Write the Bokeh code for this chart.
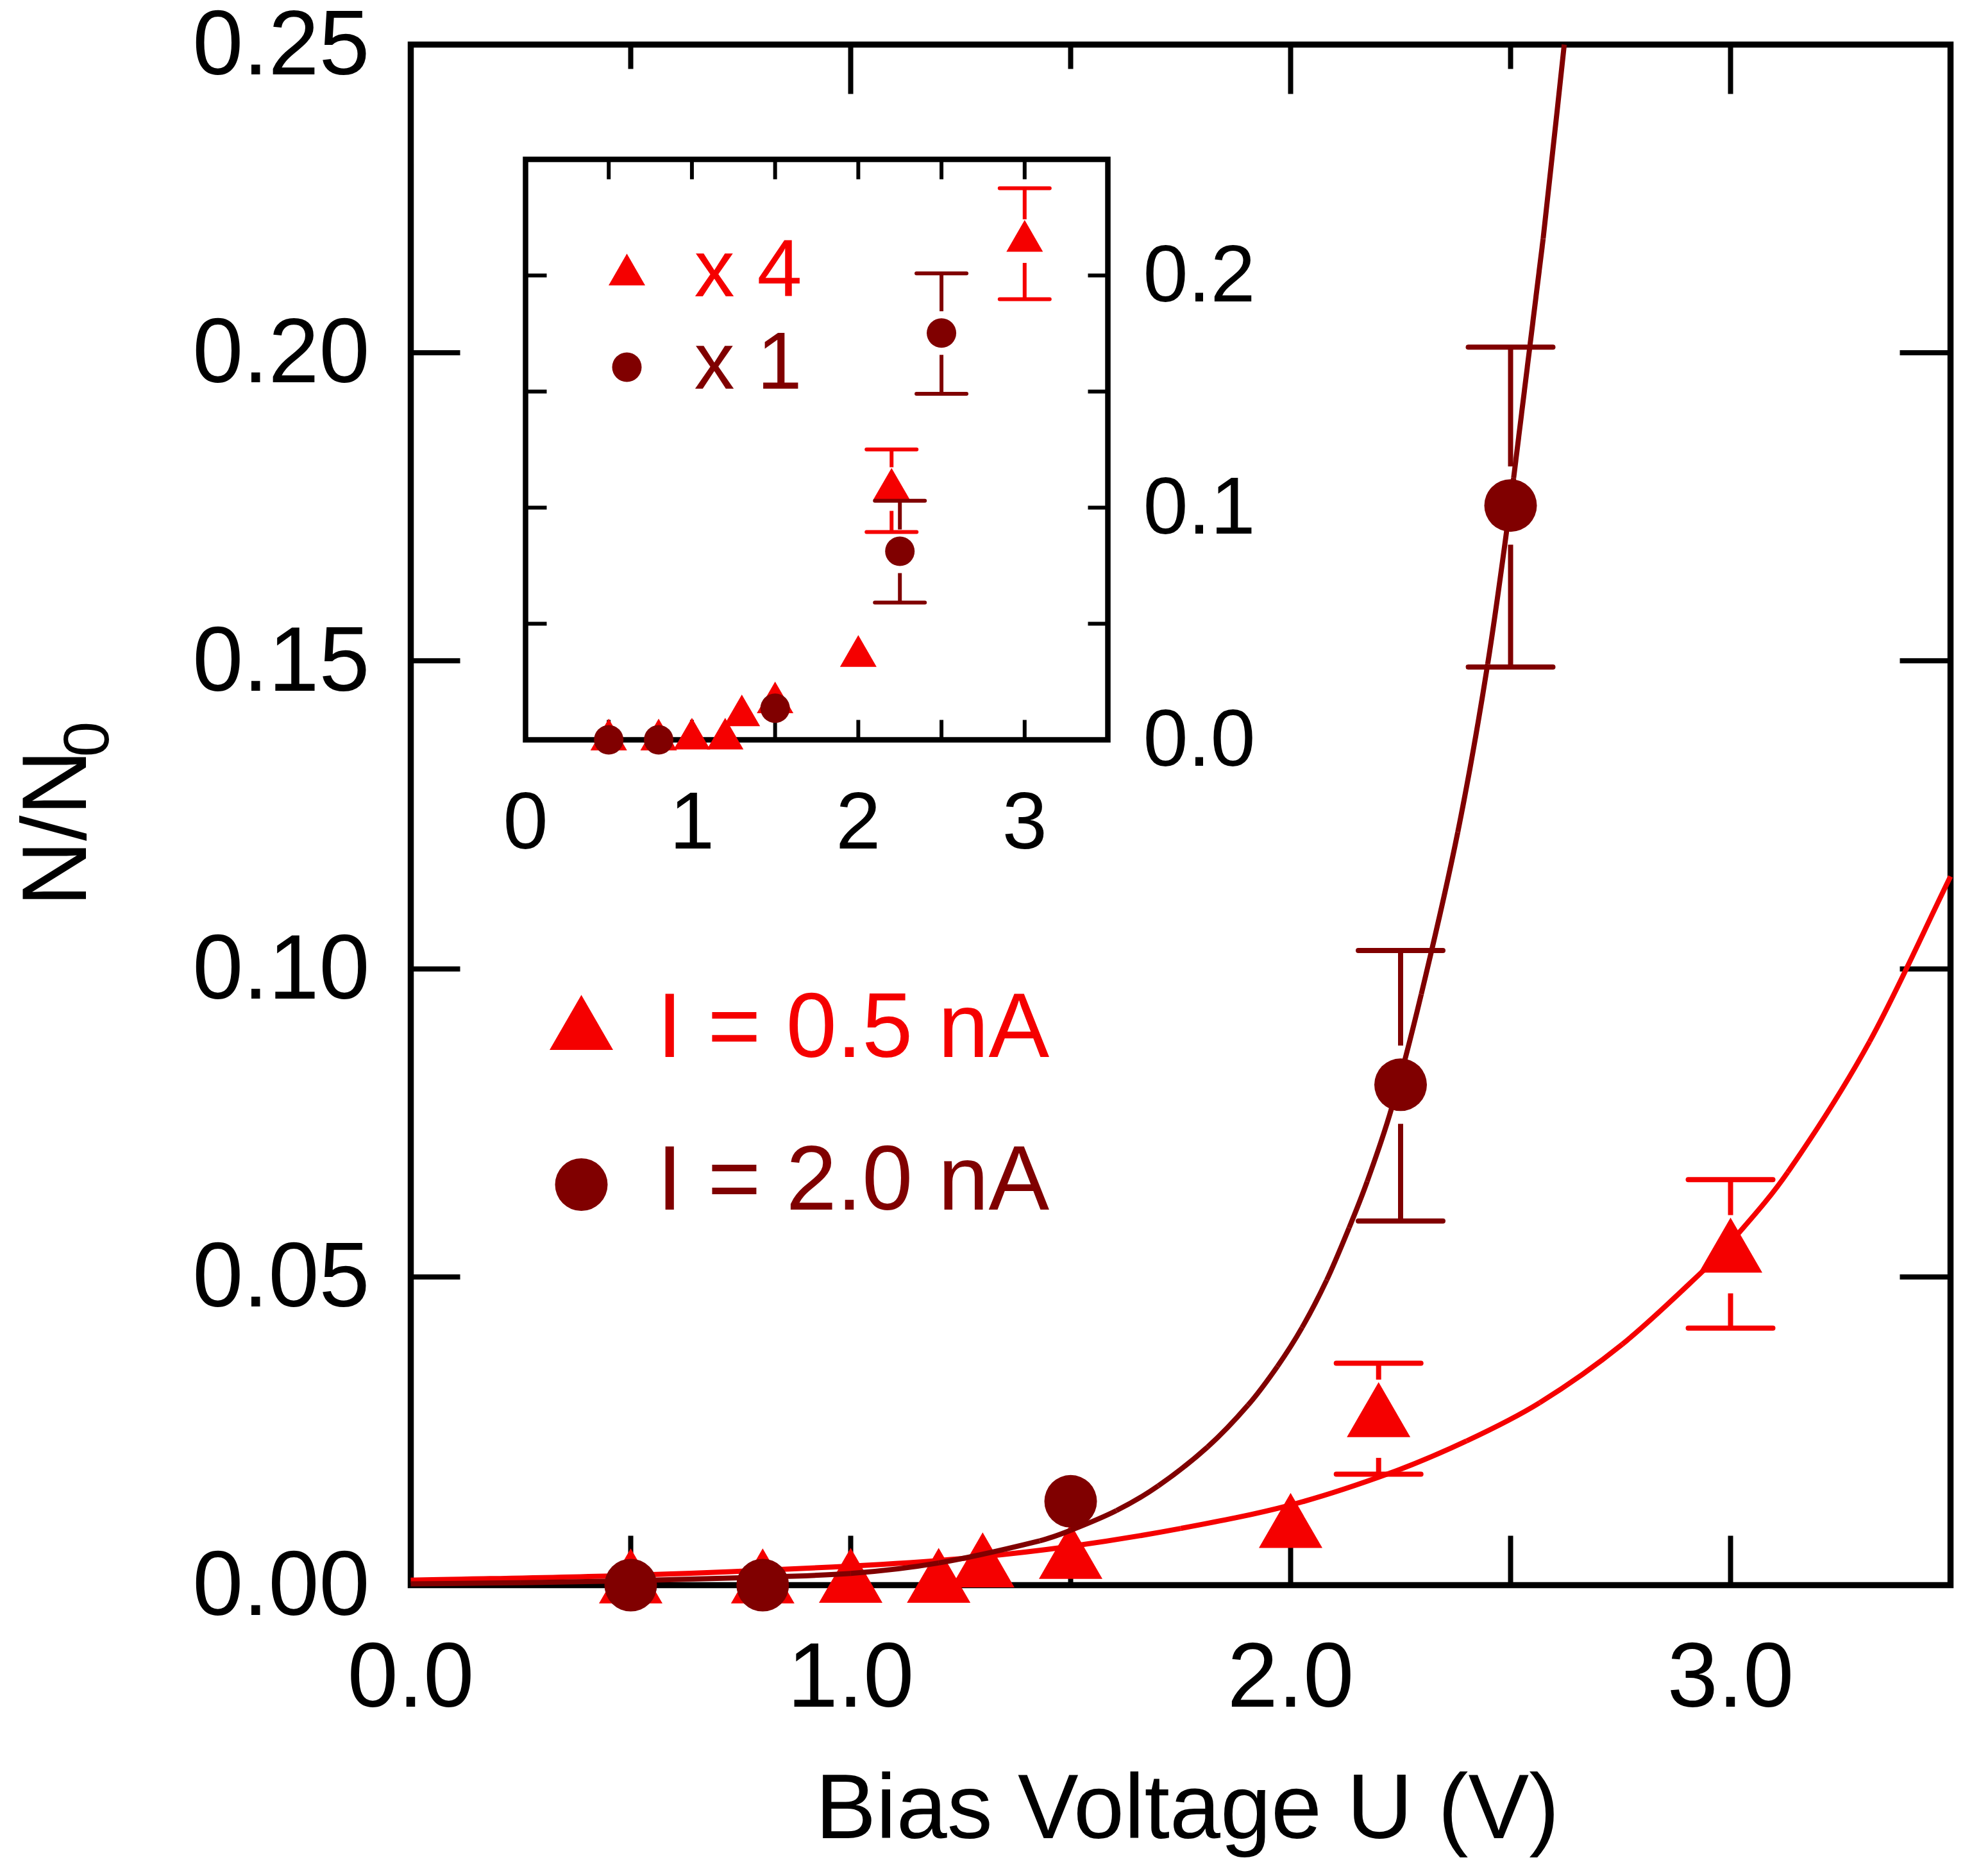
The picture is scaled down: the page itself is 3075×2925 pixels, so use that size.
import math
from bokeh.plotting import figure
from bokeh.models import Range1d
from bokeh.core.properties import value
from bokeh.embed import file_html
from bokeh.resources import INLINE

# ---------------- data ----------------
# I = 0.5 nA (triangles)
tri_x = [0.5, 0.8, 1.0, 1.2, 1.3, 1.5, 2.0, 2.2, 3.0]
tri_y = [0.0000, 0.0000, 0.0001, 0.0001, 0.0026, 0.0040, 0.0090, 0.0270, 0.0537]
tri_err_x = [2.2, 3.0]
tri_err_y = [0.0270, 0.0537]
tri_err_hi = [0.0360, 0.0658]
tri_err_lo = [0.0180, 0.0417]

# I = 2.0 nA (circles)
circ_x = [0.5, 0.8, 1.5, 2.25, 2.5]
circ_y = [0.0000, 0.0000, 0.0136, 0.0812, 0.1752]
circ_err_x = [2.25, 2.5]
circ_err_y = [0.0812, 0.1752]
circ_err_hi = [0.1030, 0.2009]
circ_err_lo = [0.0591, 0.1490]

# inset: triangles x 4, circles x 1
inset_tri_factor = 4
inset_circ_factor = 1
inset_tri_err_hi = [0.1251, 0.2376]
inset_tri_err_lo = [0.0895, 0.1898]

# fitted curves
fit_red_x = [0.0, 0.5, 1.0, 1.25, 1.5, 1.75, 2.0, 2.223, 2.4, 2.566, 2.754, 2.942, 3.0, 3.13,
             3.316, 3.5]
fit_red_y = [0.0008, 0.0016, 0.0031, 0.0043, 0.0063, 0.0092, 0.0130, 0.0181, 0.0234, 0.0296,
             0.0391, 0.0513, 0.0556, 0.0670, 0.0882, 0.1150]
fit_dark_x = [0.0, 0.25, 0.5, 0.75, 1.0, 1.2, 1.43, 1.5, 1.604, 1.699, 1.811, 1.903, 1.97,
              2.026, 2.082, 2.133, 2.174, 2.23, 2.297, 2.38, 2.448, 2.507, 2.574, 2.622]
fit_dark_y = [0.0002, 0.0004, 0.0007, 0.0012, 0.0019, 0.0036, 0.0072, 0.0089, 0.0121, 0.0161,
              0.0224, 0.0292, 0.0355, 0.0418, 0.0495, 0.0580, 0.0655, 0.0775, 0.0959, 0.1222,
              0.1495, 0.1797, 0.2185, 0.2500]

x_label_ticks = [0, 1, 2, 3]
x_tick_labels = ["0.0", "1.0", "2.0", "3.0"]
x_bottom_ticks = [0.5, 1.0, 1.5, 2.0, 2.5, 3.0]
x_top_major = [1, 2, 3]
x_top_minor = [0.5, 1.5, 2.5]
y_ticks = [0.0, 0.05, 0.10, 0.15, 0.20, 0.25]
y_tick_labels = ["0.00", "0.05", "0.10", "0.15", "0.20", "0.25"]
y_inner_ticks = [0.05, 0.10, 0.15, 0.20]
inset_x_ticks = [0.5, 1.0, 1.5, 2.0, 2.5, 3.0]
inset_y_ticks = [0.05, 0.10, 0.15, 0.20]
inset_x_labels = ["0", "1", "2", "3"]
inset_x_label_pos = [0, 1, 2, 3]
inset_y_labels = ["0.0", "0.1", "0.2"]
inset_y_label_pos = [0.0, 0.1, 0.2]

legend_labels = ["I = 0.5 nA", "I = 2.0 nA"]
inset_legend_labels = ["x 4", "x 1"]
x_title = "Bias Voltage U (V)"
y_title_main = "N/N"
y_title_sub = "0"

# ---------------- style / layout ----------------
RED = "#F50000"
DARK = "#800000"
FONT = value("Liberation Sans")
F_MAIN, F_IN, F_SUB = 142, 126, 100
BF = 0.38          # baseline correction (em)

W, H = 3070, 2920
X_MAX, Y_MAX = 3.5, 0.25
BOX_L, BOX_R, BOX_T, BOX_B = 640, 3041, 69, 2471
px_x = (BOX_R - BOX_L) / X_MAX
px_y = (BOX_B - BOX_T) / Y_MAX


def dx(px):
    return (px - BOX_L) / px_x


def dy(py):
    return (BOX_B - py) / px_y


# inset box (page pixels) and its own axis ranges
IL, IR, IT, IB = 819, 1727, 248, 1153
IX_MAX, IY_MAX = 3.5, 0.25
ipx_x = (IR - IL) / IX_MAX
ipx_y = (IB - IT) / IY_MAX


def ix(px):
    return (px - IL) / ipx_x


def iy(py):
    return (IB - py) / ipx_y


p = figure(width=W, height=H, x_range=Range1d(dx(0), dx(W)), y_range=Range1d(dy(H), dy(0)),
           x_axis_location=None, y_axis_location=None,
           min_border=0, min_border_left=0, min_border_right=0, min_border_top=0,
           min_border_bottom=0, output_backend="svg", toolbar_location=None,
           background_fill_color="white", border_fill_color="white",
           outline_line_color=None)
p.grid.grid_line_color = None
p.extra_x_ranges = {"inset": Range1d(ix(0), ix(W))}
p.extra_y_ranges = {"inset": Range1d(iy(H), iy(0))}
IN = dict(x_range_name="inset", y_range_name="inset")


def txt(x, y, text, size, color="black", align="left", xo=0, yo=0, angle=0.0, **kw):
    p.text(x=x, y=y, text=text, text_font=FONT, text_font_size=value(f"{size}px"),
           text_color=color, text_align=align, text_baseline="alphabetic",
           x_offset=xo, y_offset=yo, angle=angle, **kw)


def smooth_line(xv, yv, color, lw, **kw):
    n = len(xv)
    m = []
    for i in range(n):
        a, b = max(i - 1, 0), min(i + 1, n - 1)
        m.append((yv[b] - yv[a]) / (xv[b] - xv[a]))
    x0, y0, x1, y1, cx0, cy0, cx1, cy1 = [], [], [], [], [], [], [], []
    for i in range(n - 1):
        h = xv[i + 1] - xv[i]
        x0.append(xv[i]); y0.append(yv[i]); x1.append(xv[i + 1]); y1.append(yv[i + 1])
        cx0.append(xv[i] + h / 3); cy0.append(yv[i] + m[i] * h / 3)
        cx1.append(xv[i + 1] - h / 3); cy1.append(yv[i + 1] - m[i + 1] * h / 3)
    p.bezier(x0=x0, y0=y0, x1=x1, y1=y1, cx0=cx0, cy0=cy0, cx1=cx1, cy1=cy1,
             line_color=color, line_width=lw, line_cap="butt", **kw)


def error_bars(xv, yv, hi, lo, color, gap_px, cap, lw, ppu, **kw):
    gap = gap_px / ppu
    p.segment(x0=xv, y0=[y + gap for y in yv], x1=xv, y1=hi, line_color=color,
              line_width=lw, **kw)
    p.segment(x0=xv, y0=[y - gap for y in yv], x1=xv, y1=lo, line_color=color,
              line_width=lw, **kw)
    p.scatter(x=xv + xv, y=hi + lo, marker="dash", size=cap, line_color=color,
              line_width=lw, line_cap="round", **kw)


def vticks(xv, y0, length_px, ppu, lw, **kw):
    p.segment(x0=xv, y0=[y0] * len(xv), x1=xv, y1=[y0 + length_px / ppu] * len(xv),
              line_color="black", line_width=lw, **kw)


def hticks(yv, x0, length_px, ppu, lw, **kw):
    p.segment(x0=[x0] * len(yv), y0=yv, x1=[x0 + length_px / ppu] * len(yv), y1=yv,
              line_color="black", line_width=lw, **kw)


# ---- main box, ticks, tick labels ----
p.quad(left=[0], right=[X_MAX], bottom=[0], top=[Y_MAX], fill_color=None,
       line_color="black", line_width=9.5, line_join="miter")
vticks(x_bottom_ticks, 0, 77, px_y, 8)
vticks(x_top_major, Y_MAX, -77, px_y, 8)
vticks(x_top_minor, Y_MAX, -38, px_y, 8)
hticks(y_inner_ticks, 0, 77, px_x, 8)
hticks(y_inner_ticks, X_MAX, -79, px_x, 8)

txt(x_label_ticks, [0] * len(x_label_ticks), x_tick_labels, F_MAIN, align="center",
    yo=194 - BF * F_MAIN)
txt([0] * len(y_ticks), y_ticks, y_tick_labels, F_MAIN, align="right", xo=-64,
    yo=0.358 * F_MAIN - BF * F_MAIN)

# ---- axis titles ----
txt([dx(1851)], [0], [x_title], F_MAIN, align="center", yo=399 - BF * F_MAIN)
txt([dx(138 - BF * F_MAIN)], [dy(1413)], [y_title_main], F_MAIN, angle=math.pi / 2)
txt([dx(172 - BF * F_SUB)], [dy(1180)], [y_title_sub], F_SUB, angle=math.pi / 2)

# ---- main data ----
error_bars(tri_err_x, tri_err_y, tri_err_hi, tri_err_lo, RED, 61, 132, 8, px_y)
p.scatter(tri_x, tri_y, marker="triangle", size=99, fill_color=RED, line_color=None)
smooth_line(fit_red_x, fit_red_y, RED, 8)
error_bars(circ_err_x, circ_err_y, circ_err_hi, circ_err_lo, DARK, 61, 132, 8, px_y)
p.scatter(circ_x, circ_y, marker="circle", size=82, fill_color=DARK, line_color=None)
smooth_line(fit_dark_x, fit_dark_y, DARK, 8)

# ---- main legend ----
p.scatter([dx(906)], [dy(1608)], marker="triangle", size=99, fill_color=RED, line_color=None)
p.scatter([dx(906)], [dy(1846.5)], marker="circle", size=82, fill_color=DARK, line_color=None)
txt([dx(1024)], [dy(1651.6 - BF * F_MAIN)], [legend_labels[0]], F_MAIN, color=RED)
txt([dx(1024)], [dy(1890 - BF * F_MAIN)], [legend_labels[1]], F_MAIN, color=DARK)

# ---- inset ----
p.quad(left=[0], right=[IX_MAX], bottom=[0], top=[IY_MAX], fill_color="white",
       line_color="black", line_width=8.5, line_join="miter", **IN)
vticks(inset_x_ticks, 0, 31, ipx_y, 6, **IN)
vticks(inset_x_ticks, IY_MAX, -31, ipx_y, 6, **IN)
hticks(inset_y_ticks, 0, 33, ipx_x, 6, **IN)
hticks(inset_y_ticks, IX_MAX, -31, ipx_x, 6, **IN)
txt(inset_x_label_pos, [0] * len(inset_x_label_pos), inset_x_labels, F_IN, align="center",
    yo=174 - BF * F_IN, **IN)
txt([IX_MAX] * len(inset_y_label_pos), inset_y_label_pos, inset_y_labels, F_IN,
    xo=55, yo=0.358 * F_IN - BF * F_IN, **IN)

inset_tri_y = [inset_tri_factor * v for v in tri_y]
inset_tri_err_y = [inset_tri_factor * v for v in tri_err_y]
inset_circ_y = [inset_circ_factor * v for v in circ_y]
inset_circ_err_y = [inset_circ_factor * v for v in circ_err_y]
inset_circ_hi = [inset_circ_factor * v for v in circ_err_hi]
inset_circ_lo = [inset_circ_factor * v for v in circ_err_lo]

error_bars(tri_err_x, inset_tri_err_y, inset_tri_err_hi, inset_tri_err_lo, RED, 34, 78, 6,
           ipx_y, **IN)
p.scatter(tri_x, inset_tri_y, marker="triangle", size=57, fill_color=RED, line_color=None, **IN)
error_bars(circ_err_x, inset_circ_err_y, inset_circ_hi, inset_circ_lo, DARK, 34, 78, 6,
           ipx_y, **IN)
p.scatter(circ_x, inset_circ_y, marker="circle", size=46, fill_color=DARK, line_color=None, **IN)

# ---- inset legend ----
p.scatter([ix(977)], [iy(428)], marker="triangle", size=57, fill_color=RED, line_color=None, **IN)
p.scatter([ix(977)], [iy(572)], marker="circle", size=46, fill_color=DARK, line_color=None, **IN)
txt([ix(1082)], [iy(465.4 - BF * F_IN)], [inset_legend_labels[0]], F_IN, color=RED, **IN)
txt([ix(1082)], [iy(610 - BF * F_IN)], [inset_legend_labels[1]], F_IN, color=DARK, **IN)

open("out.html", "w").write(file_html(p, INLINE))
